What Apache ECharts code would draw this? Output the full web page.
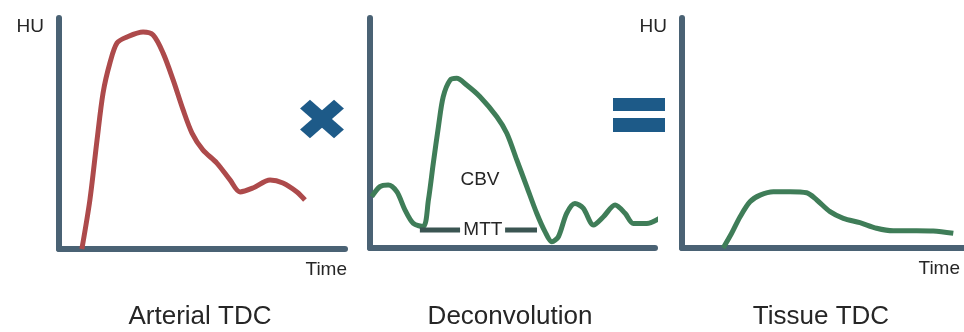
<!DOCTYPE html>
<html>
<head>
<meta charset="utf-8">
<title>Perfusion deconvolution</title>
<script src="https://cdn.jsdelivr.net/npm/echarts@6/dist/echarts.min.js"></script>
<style>
  html, body { margin: 0; padding: 0; background: #ffffff; }
  #chart { width: 964px; height: 332px; }
</style>
</head>
<body>
<div id="chart"></div>
<script>
// Arterial time-density curve (time and HU on 0-100 scales)
const arterialTime = [8.0, 10.8, 13.3, 15.4, 17.8, 20.3, 23.8, 29.4, 32.9, 36.4, 39.9, 43.4, 46.5, 50.3, 55.2, 59.8, 63.3, 67.8, 73.8, 78.3, 83.2, 86.0];
const arterialHU   = [0.0, 21.2, 47.2, 67.5, 80.5, 89.2, 91.8, 93.9, 92.6, 84.8, 73.2, 60.2, 50.2, 42.9, 37.2, 29.9, 24.7, 26.4, 29.9, 28.6, 24.7, 21.2];

// Deconvolved residue function
const residueTime = [0.6, 3.5, 6.4, 9.4, 12.3, 15.2, 18.7, 20.5, 22.2, 24.0, 25.7, 28.1, 30.4, 33.9, 38.6, 44.5, 48.0, 51.5, 55.0, 58.5, 61.4, 63.8, 66.1, 69.0, 71.9, 74.8, 78.4, 81.9, 86.0, 89.5, 92.4, 97.1, 102.4];
const residueValue = [22.3, 26.7, 27.4, 24.5, 16.5, 10.7, 9.3, 20.9, 36.8, 52.7, 65.8, 73.0, 73.8, 70.9, 65.8, 57.1, 49.9, 38.3, 26.7, 15.1, 7.1, 2.7, 4.9, 15.1, 19.4, 17.3, 10.0, 13.6, 18.7, 15.1, 10.7, 10.7, 13.6];

// MTT bracket segments (start, end) and level
const mttSegments = [[17.5, 31.6], [47.4, 58.6]];
const mttLevel = 7.8;
// In-plot annotations: [x, y, text]
const annotations = [[38.6, 29.6, 'CBV'], [39.6, 7.8, 'MTT']];

// Tissue time-density curve
const tissueTime = [14.6, 17.6, 20.6, 24.1, 27.7, 32.4, 38.3, 44.2, 47.8, 52.5, 57.2, 63.1, 69.0, 74.9, 83.2, 89.1, 96.2];
const tissueHU   = [0.0, 6.4, 13.6, 20.1, 23.0, 24.5, 24.5, 24.0, 20.9, 15.8, 12.9, 11.0, 8.6, 7.5, 7.5, 7.4, 6.4];

const panelTitles = ['Arterial TDC', 'Deconvolution', 'Tissue TDC'];

const zip = (xs, ys) => xs.map((x, i) => [x, ys[i]]);

const AXIS_COLOR = '#4a6274';
const RED = '#ad4a4b';
const GREEN = '#3f7d58';
const TEXT = '#262626';
const FONT = '"Liberation Sans", Arial, sans-serif';

function makeX(idx, name, nameGap) {
  return {
    type: 'value', gridIndex: idx, min: 0, max: 100,
    name: name, nameLocation: 'end', nameGap: nameGap,
    nameTextStyle: { fontFamily: FONT, fontSize: 19, color: TEXT, align: 'right', verticalAlign: 'top', padding: [11, 0, 0, 0] },
    axisLine: { show: true, lineStyle: { color: AXIS_COLOR, width: 6 } },
    axisTick: { show: false }, axisLabel: { show: false }, splitLine: { show: false }
  };
}
function makeY(idx, name) {
  return {
    type: 'value', gridIndex: idx, min: 0, max: 100,
    name: name, nameLocation: 'end', nameGap: -9,
    nameTextStyle: { fontFamily: FONT, fontSize: 19, color: TEXT, align: 'right', verticalAlign: 'middle', padding: [0, 15, 0, 0] },
    axisLine: { show: true, onZero: false, lineStyle: { color: AXIS_COLOR, width: 6 } },
    axisTick: { show: false }, axisLabel: { show: false }, splitLine: { show: false }
  };
}

const mttData = [];
mttSegments.forEach((s, i) => {
  if (i > 0) mttData.push([null, null]);
  mttData.push([s[0], mttLevel], [s[1], mttLevel]);
});

const chart = echarts.init(document.getElementById('chart'), null, { renderer: 'canvas' });

const titleCenters = [200, 510, 821];

chart.setOption({
  backgroundColor: '#ffffff',
  animation: false,
  grid: [
    { left: 59, top: 18, width: 286, height: 231 },
    { left: 370, top: 18, width: 285, height: 230 },
    { left: 682, top: 18, width: 282, height: 230 }
  ],
  xAxis: [makeX(0, 'Time', 2), makeX(1, '', 0), makeX(2, 'Time', -4)],
  yAxis: [makeY(0, 'HU'), makeY(1, ''), makeY(2, 'HU')],
  series: [
    {
      type: 'line', xAxisIndex: 0, yAxisIndex: 0, smooth: 0.3, showSymbol: false,
      data: zip(arterialTime, arterialHU),
      lineStyle: { color: RED, width: 5 }
    },
    {
      type: 'line', xAxisIndex: 1, yAxisIndex: 1, smooth: 0.3, showSymbol: false, clip: false,
      data: zip(residueTime, residueValue),
      lineStyle: { color: GREEN, width: 5 }
    },
    {
      type: 'line', xAxisIndex: 1, yAxisIndex: 1, showSymbol: false, connectNulls: false,
      data: mttData,
      lineStyle: { color: '#3b5552', width: 5 }
    },
    {
      type: 'scatter', xAxisIndex: 1, yAxisIndex: 1, symbolSize: 0,
      data: annotations,
      label: {
        show: true, position: 'inside', formatter: p => p.data[2],
        fontFamily: FONT, fontSize: 19, color: TEXT, opacity: 1
      }
    },
    {
      type: 'line', xAxisIndex: 2, yAxisIndex: 2, smooth: 0.3, showSymbol: false,
      data: zip(tissueTime, tissueHU),
      lineStyle: { color: GREEN, width: 5 }
    }
  ],
  graphic: [
    // multiplication sign between the first two panels
    {
      type: 'group', x: 322, y: 119, scaleY: 0.88,
      children: [
        { type: 'rect', rotation: Math.PI / 4, shape: { x: -24, y: -7, width: 48, height: 14 }, style: { fill: '#1d5a88' } },
        { type: 'rect', rotation: -Math.PI / 4, shape: { x: -24, y: -7, width: 48, height: 14 }, style: { fill: '#1d5a88' } }
      ]
    },
    // equals sign between the last two panels
    { type: 'rect', shape: { x: 613, y: 98, width: 52, height: 13 }, style: { fill: '#1d5a88' } },
    { type: 'rect', shape: { x: 613, y: 118, width: 52, height: 14 }, style: { fill: '#1d5a88' } }
  ].concat(panelTitles.map((t, i) => ({
    type: 'text', x: titleCenters[i], y: 317,
    style: { text: t, align: 'center', verticalAlign: 'middle', font: '26px ' + FONT, fill: TEXT }
  })))
});
</script>
</body>
</html>
